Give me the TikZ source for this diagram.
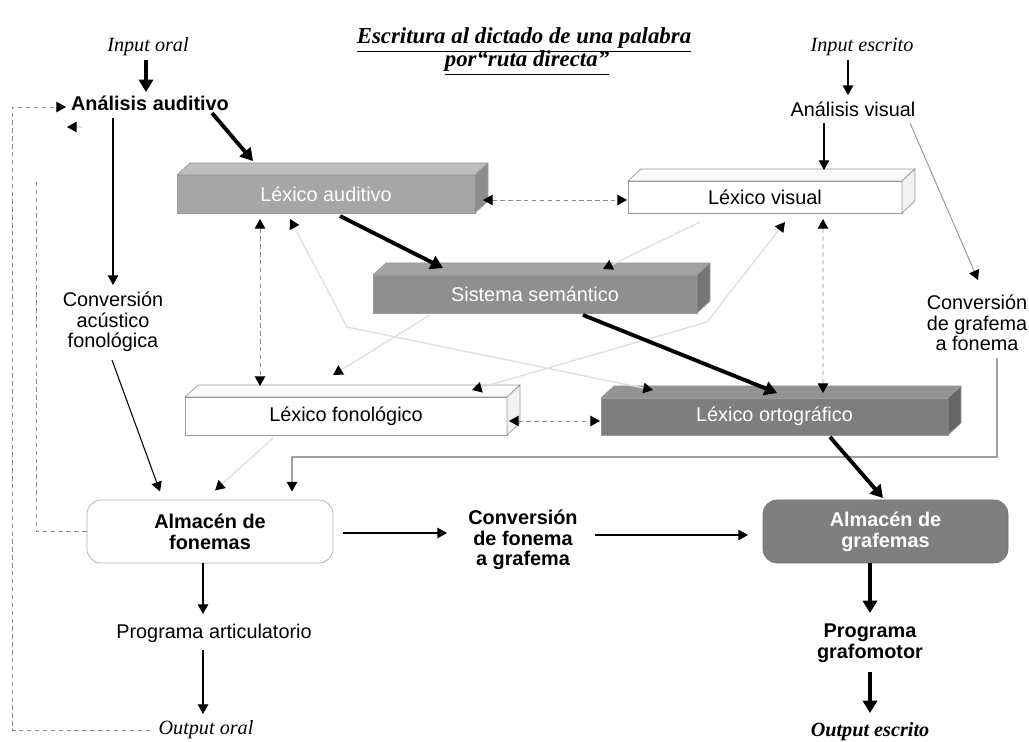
\documentclass[tikz,border=0pt]{standalone}
\usepackage{fontspec}
\setmainfont{Liberation Serif}
\setsansfont{Liberation Sans}
\usetikzlibrary{arrows.meta,fit,calc}
\definecolor{audF}{HTML}{A6A6A6}\definecolor{audT}{HTML}{BDBDBD}\definecolor{audS}{HTML}{8C8C8C}
\definecolor{semF}{HTML}{8F8F8F}\definecolor{semT}{HTML}{A3A3A3}\definecolor{semS}{HTML}{757575}
\definecolor{ortF}{HTML}{7E7E7E}\definecolor{ortT}{HTML}{929292}\definecolor{ortS}{HTML}{666666}
\definecolor{whT}{HTML}{FAFAFA}\definecolor{whS}{HTML}{F2F2F2}
\definecolor{boxedge}{HTML}{9A9A9A}
\definecolor{dashcol}{HTML}{8A8A8A}
\definecolor{thincol}{HTML}{A0A0A0}
\definecolor{faintcol}{HTML}{E0E0E0}
\definecolor{grafF}{HTML}{7F7F7F}
\newcommand{\lexbox}[9]{%
  \node[fit={(#2,#3)(#4,#5)}, inner sep=0pt, draw=boxedge, #6] (#1) {};
  \node[#6, fill=none, draw=none, inner sep=0pt, font=\sffamily\fontsize{11.3}{12}\selectfont] (#1-t) at (#1.center) {#9};
  \filldraw[draw=boxedge, fill=#7, line join=round] (#2,#3) -- ++(13,-12) -- (#4+13,#3-12) -- (#4,#3) -- cycle;
  \filldraw[draw=boxedge, fill=#8, line join=round] (#4,#3) -- (#4+13,#3-12) -- (#4+13,#5-12) -- (#4,#5) -- cycle;
}
\begin{document}
\begin{tikzpicture}[x=0.02cm,y=-0.02cm,
  lbl/.style={font=\sffamily\fontsize{11.3}{11.8}\selectfont, align=center, inner sep=1pt},
  blbl/.style={font=\sffamily\bfseries\fontsize{11.3}{11.8}\selectfont, align=center, inner sep=1pt},
  itl/.style={font=\rmfamily\itshape\fontsize{11.5}{12}\selectfont, inner sep=1pt},
  bitl/.style={font=\rmfamily\bfseries\itshape\fontsize{11.5}{12}\selectfont, inner sep=1pt},
  ttl/.style={font=\rmfamily\bfseries\itshape\fontsize{13}{15}\selectfont, inner sep=0pt},
  thickarr/.style={line width=2.2pt, -{Triangle[length=7pt,width=8pt]}},
  thinarr/.style={line width=0.6pt, -{Triangle[length=5.5pt,width=6pt]}},
  grayarr/.style={draw=thincol, line width=0.6pt, -{Triangle[length=5.5pt,width=6pt,color=black]}},
  faintarr/.style={draw=faintcol, line width=0.8pt, -{Triangle[length=5.5pt,width=6pt,color=black]}},
  faintboth/.style={draw=faintcol, line width=0.8pt, {Triangle[length=5.5pt,width=6pt,color=black]}-{Triangle[length=5.5pt,width=6pt,color=black]}},
  dashboth/.style={draw=dashcol, line width=0.5pt, dash pattern=on 2.5pt off 2pt, {Triangle[length=5.5pt,width=6pt,color=black]}-{Triangle[length=5.5pt,width=6pt,color=black]}},
  dashline/.style={draw=dashcol, line width=0.5pt, dash pattern=on 2.5pt off 2pt},
  roundbox/.style={inner sep=0pt, rounded corners=8pt}
]
\useasboundingbox (0,0) rectangle (1029,742);

% title
\node[ttl] (title1) at (524,40) {\underline{Escritura al dictado de una palabra}};
\node[ttl] (title2) at (527,63) {\underline{por“ruta directa”}};

% labels
\node[itl] (inoral) at (148,47) {Input oral};
\node[blbl] (anaud) at (150,103) {Análisis auditivo};
\node[itl] (inesc) at (862,47) {Input escrito};
\node[lbl] (anvis) at (853,109) {Análisis visual};
\node[lbl] (convac) at (113,322) {Conversión\\acústico\\fonológica};
\node[lbl] (convgf) at (977,323) {Conversión\\de grafema\\a fonema};
\node[blbl] (convfg) at (523,540) {Conversión\\de fonema\\a grafema};
\node[lbl] (prart) at (214,633) {Programa articulatorio};
\node[blbl] (prgg) at (870,643) {Programa\\grafomotor};
\node[itl] (outoral) at (206,730) {Output oral};
\node[bitl] (outesc) at (870,732) {Output escrito};

% 3D boxes
\lexbox{lexaud}{177}{175}{475}{213}{fill=audF,text=white}{audT}{audS}{Léxico auditivo}
\lexbox{lexvis}{628}{181}{902}{213}{fill=white}{whT}{whS}{Léxico visual}
\lexbox{sem}{373}{275}{697}{313}{fill=semF,text=white}{semT}{semS}{Sistema semántico}
\lexbox{lexfon}{185}{397}{507}{435}{fill=white}{whT}{whS}{Léxico fonológico}
\lexbox{lexort}{601}{398}{948}{435}{fill=ortF,text=white}{ortT}{ortS}{Léxico ortográfico}

% rounded boxes
\node[roundbox, fit={(87,500)(333,563)}, draw=boxedge!80, fill=white] (almf) {};
\node[blbl] (almf-t) at (almf.center) {Almacén de\\fonemas};
\node[roundbox, fit={(763,500)(1008,563)}, draw=grafF!90!black, fill=grafF] (almg) {};
\node[blbl, text=white] (almg-t) at (almg.center) {Almacén de\\grafemas};

% faint connectors
\coordinate (bendA) at (347,327);
\coordinate (bendB) at (707,322);
\draw[faintboth] ($(lexaud.center)+(-36,25)$) -- (bendA) -- ($(lexort.center)+(-121.5,-26.5)$);
\draw[faintboth] ($(lexvis.center)+(20,25)$) -- (bendB) -- ($(lexfon.center)+(126,-26)$);
\draw[faintarr] ($(lexvis.center)+(-65,25)$) -- ($(sem.center)+(68,-25)$);
\draw[faintarr] ($(sem.center)+(-105,21)$) -- ($(lexfon.center)+(-13,-41)$);
\draw[faintarr] ($(lexfon.center)+(-73,22)$) -- ($(almf.center)+(5,-41)$);

% dashed connectors
\draw[dashboth] ($(lexaud.center)+(157,6)$) -- ($(lexvis.center)+(-138,3)$);
\draw[dashboth] ($(lexaud.center)+(-66,25)$) -- ($(lexfon.center)+(-86,-30)$);
\draw[dashboth] ($(lexvis.center)+(58,22)$) -- ($(lexort.center)+(48.5,-23.5)$);
\draw[dashboth] ($(lexfon.center)+(163,5)$) -- ($(lexort.center)+(-174.5,4.5)$);
\draw[dashline, -{Triangle[length=5.5pt,width=6pt,color=black]}] ($(outoral.center)+(-56,0)$) -- ++(-138,0) |- ($(anaud.center)+(-84,4)$);
\draw[dashline] (almf.west) -- ++(-50,0) -- ++(0,-352);
\draw[faintarr] ($(anaud.center)+(-68,24)$) -- ($(anaud.center)+(-83,24)$);

% gray thin connectors
\draw[grayarr] ($(anvis.center)+(57,14)$) -- ($(convgf.center)+(1,-43)$);
\draw[grayarr] ($(convgf.center)+(20,35)$) -- ++(0,99) -| ($(almf.center)+(82,-40)$);

% thin black connectors
\draw[thinarr] ($(anaud.center)+(-37,15)$) -- ($(convac.center)+(0,-37)$);
\draw[thinarr] ($(convac.center)+(-1,38)$) -- ($(almf.center)+(-50,-40)$);
\draw[thinarr] ($(inesc.center)+(-14,13)$) -- ($(anvis.center)+(-5,-14)$);
\draw[thinarr] ($(anvis.center)+(-29,14)$) -- ($(lexvis.center)+(59,-27)$);
\draw[thinarr] ($(almf.center)+(133,1.5)$) -- ($(convfg.center)+(-76,-7)$);
\draw[thinarr] ($(convfg.center)+(72,-5)$) -- ($(almg.center)+(-137.5,3.5)$);
\draw[thinarr] ($(almf.center)+(-7,31.5)$) -- ($(prart.center)+(-11,-19)$);
\draw[thinarr] ($(prart.center)+(-11,17)$) -- ($(outoral.center)+(-3,-16)$);

% thick connectors
\draw[thickarr] ($(inoral.center)+(-2,13)$) -- ($(anaud.center)+(-4,-11)$);
\draw[thickarr] ($(anaud.center)+(62,10)$) -- ($(lexaud.center)+(-73,-33)$);
\draw[thickarr] ($(lexaud.center)+(14,22)$) -- ($(sem.center)+(-92,-26)$);
\draw[thickarr] ($(sem.center)+(48,21)$) -- ($(lexort.center)+(2.5,-23.5)$);
\draw[thickarr] ($(lexort.center)+(55.5,20.5)$) -- ($(almg.center)+(-2.5,-33.5)$);
\draw[thickarr] ($(almg.center)+(-15.5,31.5)$) -- ($(prgg.center)+(0,-30)$);
\draw[thickarr] ($(prgg.center)+(0,29)$) -- ($(outesc.center)+(0,-19)$);
\end{tikzpicture}
\end{document}
